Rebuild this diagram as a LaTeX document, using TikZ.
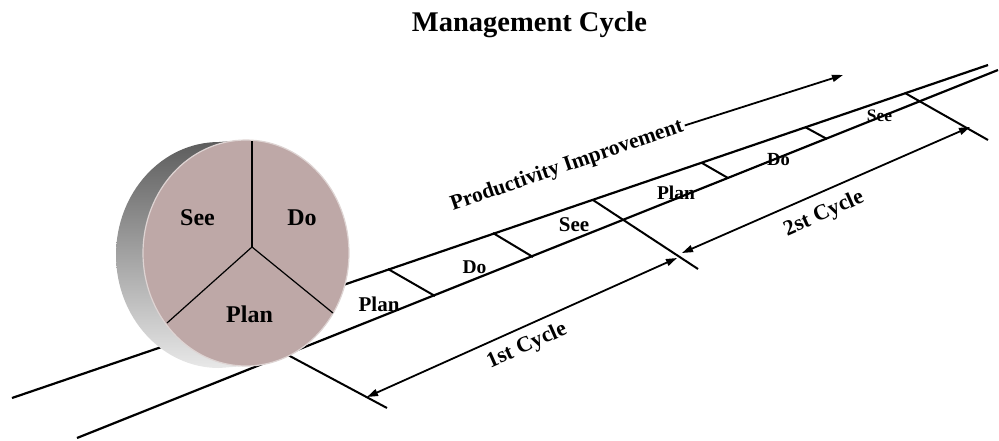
\documentclass[tikz,border=0pt]{standalone}
\usepackage{fontspec}
\setmainfont{Liberation Serif}
\usetikzlibrary{arrows.meta}
\definecolor{facecol}{RGB}{190,168,167}
\definecolor{rimcol}{RGB}{222,212,211}
\definecolor{sidetop}{RGB}{92,92,92}
\definecolor{sidemid}{RGB}{150,150,150}
\definecolor{sidebot}{RGB}{232,232,232}
\tikzset{
  roadline/.style={line width=2.2pt},
  divider/.style={line width=2pt},
  dimline/.style={line width=1.8pt,
    {Triangle[length=11pt,width=7pt]}-{Triangle[length=11pt,width=7pt]}},
  trendline/.style={line width=1.8pt, -{Triangle[length=11pt,width=7pt]}},
  spoke/.style={line width=1.2pt},
  lbl/.style={inner sep=0pt, font=\bfseries},
}
\newcommand{\fs}[1]{\fontsize{#1}{#1}\selectfont}
\begin{document}
\begin{tikzpicture}[x=1pt,y=-1pt]
\useasboundingbox (0,0) rectangle (999,440);

% title
\node[lbl, anchor=base] (title) at (529.5,31) {\fs{28.5}Management Cycle};

% road end points
\coordinate (uL) at (12,398);  \coordinate (uR) at (988,65);
\coordinate (lL) at (77,438);  \coordinate (lR) at (998,70);
% cycle boundaries
\coordinate (b1a) at (230,324); \coordinate (b1b) at (387,408);
\coordinate (b2a) at (593,200); \coordinate (b2b) at (698,269);
\coordinate (b3a) at (905,93);  \coordinate (b3b) at (988,140);
% phase dividers
\coordinate (t1a) at (388,269); \coordinate (t1b) at (435,296);
\coordinate (t2a) at (493,233); \coordinate (t2b) at (533,257);
\coordinate (t3a) at (702,163); \coordinate (t3b) at (728,178);
\coordinate (t4a) at (805,127); \coordinate (t4b) at (827,139);
% dimension arrows
\coordinate (d1a) at (367,397); \coordinate (d1b) at (677,258);
\coordinate (d2a) at (682,253); \coordinate (d2b) at (970,127);
\coordinate (pend) at (843,75);

% phase labels on the road
\node[lbl, anchor=base] (p1) at (379,311) {\fs{21}Plan};
\node[lbl, anchor=base] (q1) at (474.5,273) {\fs{19.5}Do};
\node[lbl, anchor=base] (s1) at (574,231) {\fs{21}See};
\node[lbl, anchor=base] (p2) at (676,199) {\fs{19.5}Plan};
\node[lbl, anchor=base] (q2) at (778.5,165) {\fs{18.5}Do};
\node[lbl, anchor=base] (s2) at (879.5,121) {\fs{17.5}See};

% road
\draw[roadline] (uL) -- (uR);
\draw[roadline] (lL) -- (lR);
\draw[divider] (b1a) -- (b1b);
\draw[divider] (b2a) -- (b2b);
\draw[divider] (b3a) -- (b3b);
\draw[divider] (t1a) -- (t1b);
\draw[divider] (t2a) -- (t2b);
\draw[divider] (t3a) -- (t3b);
\draw[divider] (t4a) -- (t4b);

% cycle spans
\draw[dimline] (d1a) -- (d1b);
\draw[dimline] (d2a) -- (d2b);
\node[lbl, rotate=24] (c1) at (527,346) {\fs{22}1st Cycle};
\node[lbl, rotate=24] (c2) at (824,214) {\fs{22}2st Cycle};

% trend
\node[lbl, rotate=19, inner sep=2pt] (prod) at (567,166) {\fs{21.5}Productivity Improvement};
\draw[trendline] (prod.east) -- (pend);

% wheel: side of the cylinder
\coordinate (F) at (246,253);
\coordinate (B) at (219,255);
\shade[top color=sidetop, middle color=sidemid, bottom color=sidebot]
  (246,140) -- (219,142)
  arc[start angle=270, end angle=90, x radius=103, y radius=113]
  -- (246,366) -- cycle;
% wheel: face
\fill[facecol, draw=rimcol, line width=1.2pt] (F) ellipse[x radius=103, y radius=113];

% spokes
\coordinate (hub) at (252,247);
\coordinate (k1) at (252,141);
\coordinate (k2) at (167,323);
\coordinate (k3) at (333,313);
\draw[spoke] (hub) -- (k1);
\draw[spoke] (hub) -- (k2);
\draw[spoke] (hub) -- (k3);

\node[lbl, anchor=base] (wsee) at (197.5,225) {\fs{24}See};
\node[lbl, anchor=base] (wdo) at (302,225) {\fs{24}Do};
\node[lbl, anchor=base] (wplan) at (249.5,322) {\fs{24}Plan};
\end{tikzpicture}
\end{document}
